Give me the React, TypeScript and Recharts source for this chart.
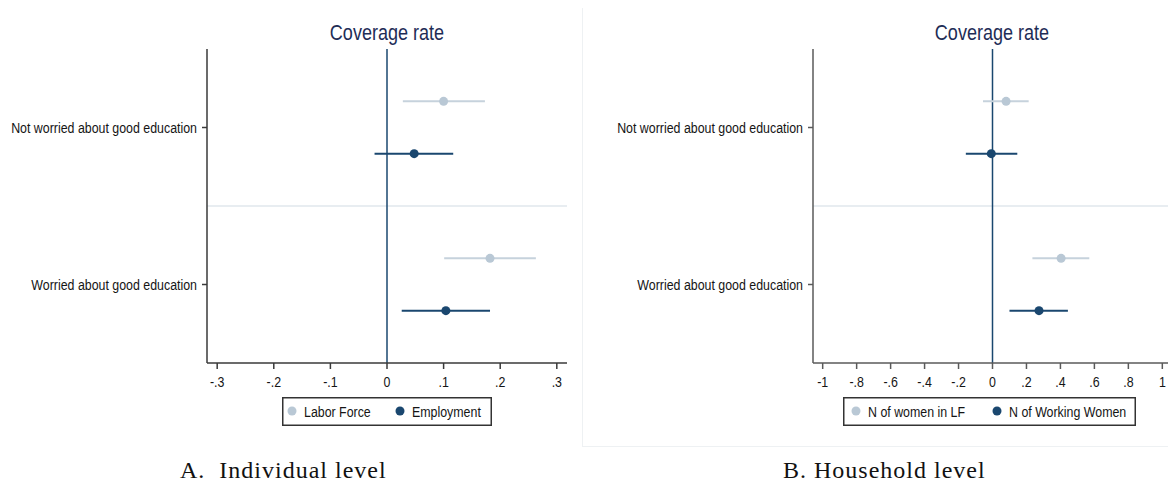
import React from "react";
import {
  ScatterChart,
  Scatter,
  XAxis,
  YAxis,
  ErrorBar,
  ReferenceLine,
} from "recharts";

const rowLabels = [
  "Not worried about good education",
  "Worried about good education",
];
const rowTicks = [1.5, 4.5];

// A. individual level
const indivTicks = [-0.3, -0.2, -0.1, 0, 0.1, 0.2, 0.3];
const laborForce = [0.1, 0.182];
const laborForceLo = [0.028, 0.101];
const laborForceHi = [0.173, 0.263];
const employment = [0.048, 0.104];
const employmentLo = [-0.022, 0.026];
const employmentHi = [0.117, 0.182];

// B. household level
const hhTicks = [-1, -0.8, -0.6, -0.4, -0.2, 0, 0.2, 0.4, 0.6, 0.8, 1];
const womenInLF = [0.08, 0.404];
const womenInLFLo = [-0.056, 0.235];
const womenInLFHi = [0.213, 0.57];
const workingWomen = [-0.007, 0.274];
const workingWomenLo = [-0.157, 0.1];
const workingWomenHi = [0.146, 0.444];

const LIGHT = "#b9c8d5";
const LIGHT_CI = "#c6d2dc";
const DARK = "#1a476f";
const TITLE = "#1e2d56";
const INK = "#151515";
const SANS = "'Liberation Sans', Arial, sans-serif";
const NARROW = 0.8; // horizontal squeeze for the Stata-like narrow text

// first series sits above the row tick, second below
const build = (v: number[], lo: number[], hi: number[], shift: number) =>
  v.map((x, i) => ({
    x,
    y: rowTicks[i] + shift,
    err: [x - lo[i], hi[i] - x],
  }));

const fmt = (v: number) => (v === 0 ? "0" : String(v).replace("0.", "."));

function XTick(props: any) {
  const { x, y, payload } = props;
  return (
    <g transform={`translate(${x},${y})`}>
      <text
        transform={`scale(${NARROW},1)`}
        textAnchor="middle"
        dy="0.71em"
        fill={INK}
        fontSize={15.5}
        fontFamily={SANS}
      >
        {fmt(payload.value)}
      </text>
    </g>
  );
}

function YTick(props: any) {
  const { x, y, payload } = props;
  return (
    <g transform={`translate(${x},${y})`}>
      <text
        transform={`scale(${NARROW},1)`}
        textAnchor="end"
        dy="0.355em"
        fill={INK}
        fontSize={15.5}
        fontFamily={SANS}
      >
        {rowLabels[rowTicks.indexOf(payload.value)]}
      </text>
    </g>
  );
}

type Pt = { x: number; y: number; err: number[] };

type PanelProps = {
  left: number;
  width: number;
  axisWidth: number;
  marginRight: number;
  domain: [number, number];
  ticks: number[];
  light: Pt[];
  dark: Pt[];
  axisColor: string;
};

function Panel(p: PanelProps) {
  return (
    <div style={{ position: "absolute", left: p.left, top: 0 }}>
      <ScatterChart
        width={p.width}
        height={440}
        margin={{ top: 49, right: p.marginRight, bottom: 47, left: 0 }}
      >
        <XAxis
          type="number"
          dataKey="x"
          domain={p.domain}
          ticks={p.ticks}
          allowDataOverflow
          height={30}
          tickSize={6}
          tickMargin={7}
          stroke={p.axisColor}
          strokeWidth={1.5}
          tick={<XTick />}
        />
        <YAxis
          type="number"
          dataKey="y"
          domain={[0, 6]}
          reversed
          ticks={rowTicks}
          width={p.axisWidth}
          tickSize={5}
          tickMargin={5}
          stroke={p.axisColor}
          strokeWidth={1.5}
          tick={<YTick />}
        />
        <ReferenceLine y={3} stroke="#e8edf1" strokeWidth={2} />
        <ReferenceLine x={0} stroke={DARK} strokeWidth={1.5} />
        <Scatter data={p.light} fill={LIGHT} isAnimationActive={false}>
          <ErrorBar
            dataKey="err"
            direction="x"
            width={0}
            stroke={LIGHT_CI}
            strokeWidth={2}
          />
        </Scatter>
        <Scatter data={p.dark} fill={DARK} isAnimationActive={false}>
          <ErrorBar
            dataKey="err"
            direction="x"
            width={0}
            stroke={DARK}
            strokeWidth={2}
          />
        </Scatter>
      </ScatterChart>
    </div>
  );
}

// legend box; item offsets are relative to the box's left edge
function LegendBox(props: {
  left: number;
  width: number;
  names: string[];
  offsets: number[];
}) {
  const colors = [LIGHT, DARK];
  return (
    <svg
      style={{ position: "absolute", left: props.left, top: 397 }}
      width={props.width}
      height={29}
    >
      <rect
        x={0.75}
        y={0.75}
        width={props.width - 1.5}
        height={27.5}
        fill="#fff"
        stroke="#333"
        strokeWidth={1.5}
      />
      {props.names.map((n, i) => (
        <g key={n}>
          <circle cx={props.offsets[i]} cy={14} r={4.5} fill={colors[i]} />
          <g transform={`translate(${props.offsets[i] + 12},14)`}>
            <text
              transform={`scale(${NARROW},1)`}
              dy="0.355em"
              fill={INK}
              fontSize={15.5}
              fontFamily={SANS}
            >
              {n}
            </text>
          </g>
        </g>
      ))}
    </svg>
  );
}

function Title({ center }: { center: number }) {
  return (
    <div
      style={{
        position: "absolute",
        left: center - 100,
        width: 200,
        top: 21,
        textAlign: "center",
        fontFamily: SANS,
        fontSize: 22,
        lineHeight: "24px",
        color: TITLE,
        transform: `scaleX(${NARROW + 0.02})`,
      }}
    >
      Coverage rate
    </div>
  );
}

const captionStyle: React.CSSProperties = {
  position: "absolute",
  top: 457,
  fontFamily: "'Liberation Serif', serif",
  fontSize: 24,
  lineHeight: "26px",
  letterSpacing: 1,
  whiteSpace: "pre",
  color: "#111",
};

export default function App() {
  return (
    <div
      style={{
        position: "relative",
        width: 1176,
        height: 486,
        margin: -8,
        background: "#fff",
        overflow: "hidden",
      }}
    >
      <div
        style={{
          position: "absolute",
          left: 582,
          top: 6,
          width: 600,
          height: 441,
          border: "1.5px solid #eef1f3",
          boxSizing: "border-box",
        }}
      />
      <Panel
        left={0}
        width={580}
        axisWidth={207}
        marginRight={13}
        domain={[-0.318, 0.318]}
        ticks={indivTicks}
        light={build(laborForce, laborForceLo, laborForceHi, -0.5)}
        dark={build(employment, employmentLo, employmentHi, 0.5)}
        axisColor="#3a3a3a"
      />
      <Panel
        left={582}
        width={594}
        axisWidth={231}
        marginRight={4}
        domain={[-1.057, 1.057]}
        ticks={hhTicks}
        light={build(womenInLF, womenInLFLo, womenInLFHi, -0.5)}
        dark={build(workingWomen, workingWomenLo, workingWomenHi, 0.5)}
        axisColor="#5a5a5a"
      />
      <Title center={387} />
      <Title center={992} />
      <LegendBox
        left={282}
        width={210}
        names={["Labor Force", "Employment"]}
        offsets={[10, 118]}
      />
      <LegendBox
        left={843}
        width={293}
        names={["N of women in LF", "N of Working Women"]}
        offsets={[13, 154]}
      />
      <div style={{ ...captionStyle, left: 180 }}>A.  Individual level</div>
      <div style={{ ...captionStyle, left: 783 }}>B. Household level</div>
    </div>
  );
}
